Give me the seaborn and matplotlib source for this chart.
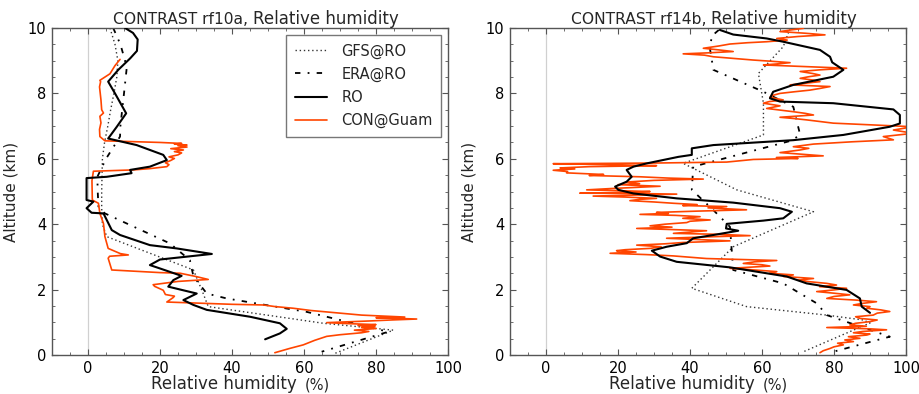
import numpy as np
import pandas as pd
import matplotlib
matplotlib.use("Agg")
import matplotlib.pyplot as plt
import seaborn as sns

# ---------------- data: relative humidity (%) vs altitude (km) ----------------
# rf10a
gfs_a_rh = [6.1, 7.5, 8.3, 8.0, 7.2, 6.3, 5.5, 4.6, 4.0, 3.9, 3.8, 3.8, 4.0, 5.2, 29.3, 32.0, 33.4, 65.4, 84.8, 68.6]
gfs_a_z = [10.0, 9.5, 9.0, 8.5, 8.0, 7.5, 7.0, 6.5, 6.0, 5.5, 5.0, 4.5, 4.0, 3.62, 2.6, 1.88, 1.48, 0.97, 0.76, 0.05]

era_a_rh = [7.0, 9.0, 10.3, 10.7, 10.0, 9.5, 9.0, 8.9, 5.0, 2.6, 2.7, 2.9, 4.7, 22.8, 28.3, 29.3, 33.0, 38.5, 60.7, 70.0, 83.4, 64.9]
era_a_z = [10.0, 9.5, 9.0, 8.72, 8.0, 7.5, 7.0, 6.68, 6.0, 5.45, 5.0, 4.54, 4.33, 3.41, 2.9, 2.4, 1.88, 1.73, 1.32, 1.07, 0.71, 0.1]

ro_a_rh = [10.3, 12.5, 13.8, 13.6, 11.7, 8.4, 5.6, 7.5, 10.6, 8.0, 5.6, 13.5, 20.9, 21.9, 17.2, 11.7, 12.1, 5.2,
           -0.4, -0.4, 1.5, -0.4, 1.0, 4.3, 6.6, 8.9, 17.2, 24.6, 34.4, 20.0, 17.2, 19.1, 26.0, 23.7, 22.3, 30.2,
           26.5, 29.3, 33.0, 45.0, 53.3, 55.2, 53.3, 49.2]
ro_a_z = [10.0, 9.85, 9.65, 9.3, 9.07, 8.72, 8.36, 8.0, 7.39, 6.98, 6.62, 6.42, 6.12, 5.96, 5.76, 5.66, 5.56, 5.45,
          5.41, 4.74, 4.69, 4.49, 4.35, 4.33, 3.82, 3.67, 3.36, 3.26, 3.09, 2.92, 2.75, 2.68, 2.42, 2.29, 2.09, 1.88,
          1.68, 1.53, 1.38, 1.17, 0.97, 0.80, 0.66, 0.48]

con_a_rh = [8.9, 7.5, 6.1, 3.3, 3.5, 3.2, 3.4, 3.6, 3.8, 4.3, 3.3, 3.6, 3.2, 3.3,
            4.7, 20.0, 26.0, 24.0, 27.5, 25.0, 27.5, 23.0, 26.5, 24.0, 26.0, 25.0, 22.5, 24.0, 23.0, 21.5, 22.5,
            21.9, 17.2, 12.6, 1.5,
            1.1, 1.2, 2.9, 3.3, 4.3, 4.7, 5.6, 9.0, 11.2, 6.0, 5.6, 6.6, 20.0, 25.6, 30.0, 33.4, 25.0, 18.1, 18.5,
            20.9, 21.5, 24.0, 23.7, 21.9,
            40.0, 48.7, 52.0, 57.0, 62.0, 67.0, 70.0, 76.0, 88.0, 80.0, 91.3, 84.0, 78.0, 66.3, 72.0, 80.0, 75.0,
            79.7, 76.0, 80.0, 74.0, 78.0, 76.0, 70.0, 66.3, 63.0, 59.8, 56.0, 51.9]
con_a_z = [9.04, 8.85, 8.6, 8.4, 8.36, 8.2, 8.0, 7.8, 7.5, 7.4, 7.3, 7.1, 6.9, 6.68,
           6.55, 6.50, 6.47, 6.45, 6.42, 6.40, 6.36, 6.31, 6.27, 6.22, 6.18, 6.12, 6.06, 6.01, 5.95, 5.88, 5.82,
           5.76, 5.70, 5.66, 5.62,
           5.33, 4.74, 4.64, 4.33, 4.02, 3.62, 3.26, 3.1, 3.06, 3.02, 2.96, 2.6, 2.52, 2.5, 2.4, 2.31, 2.25, 2.15, 2.1,
           1.98, 1.85, 1.8, 1.76, 1.62,
           1.55, 1.53, 1.48, 1.43, 1.36, 1.31, 1.28, 1.22, 1.16, 1.14, 1.10, 1.07, 1.04, 0.99, 0.96, 0.93, 0.90,
           0.87, 0.84, 0.81, 0.76, 0.72, 0.68, 0.62, 0.57, 0.45, 0.31, 0.2, 0.07]

# rf14b
gfs_b_rh = [67.8, 65.9, 59.0, 60.4, 60.4, 38.1, 53.0, 74.3, 52.0, 40.5, 55.7, 78.0, 88.1, 90.0, 71.5]
gfs_b_z = [9.99, 9.43, 8.61, 7.70, 6.73, 5.86, 5.05, 4.38, 3.31, 2.04, 1.48, 1.22, 1.07, 0.98, 0.1]

era_b_rh = [48.0, 46.0, 45.6, 46.5, 60.4, 68.7, 70.6, 68.0, 40.9, 40.5, 46.5, 51.1, 52.0, 65.9, 75.2, 78.0, 95.5, 79.8]
era_b_z = [9.94, 9.75, 9.33, 8.72, 8.05, 7.59, 6.73, 6.55, 5.76, 5.05, 4.43, 3.92, 2.60, 2.19, 1.58, 1.22, 0.56, 0.1]

ro_b_rh = [48.3, 52.0, 61.3, 65.9, 76.1, 78.9, 79.5, 82.6, 79.8, 68.7, 63.1, 62.2, 65.0, 79.8, 96.5, 98.3, 98.3,
           95.5, 82.6, 68.7, 46.5, 40.5, 40.5, 36.8, 28.0, 24.3, 22.4, 23.8, 22.4, 19.2, 20.1, 24.3, 36.3, 52.0,
           65.0, 68.3, 65.9, 60.4, 50.2, 50.0, 53.4, 46.5, 40.9, 39.1, 33.5, 29.4, 31.7, 36.3, 51.1, 66.9, 72.4,
           83.5, 87.2, 87.7, 90.0]
ro_b_z = [9.94, 9.8, 9.68, 9.58, 9.33, 9.12, 8.95, 8.72, 8.51, 8.26, 8.05, 7.85, 7.75, 7.7, 7.51, 7.34, 7.08,
          6.98, 6.73, 6.57, 6.42, 6.32, 6.12, 6.06, 5.86, 5.76, 5.66, 5.45, 5.30, 5.15, 5.05, 4.94, 4.79, 4.66,
          4.49, 4.38, 4.18, 4.11, 4.01, 3.87, 3.80, 3.67, 3.57, 3.42, 3.31, 3.19, 3.01, 2.85, 2.68, 2.40, 2.19,
          1.99, 1.73, 1.48, 1.29]

con_b_rh = [71.5, 68.0, 65.0, 72.0, 77.5, 70.0, 64.1, 67.0, 61.3, 56.0, 51.1, 48.0, 43.7, 48.0, 52.0, 45.0, 38.1,
            44.0, 46.5, 52.0, 57.6, 63.0, 67.8, 64.0, 60.4, 72.0, 83.5, 76.0, 70.6, 74.0, 76.1, 73.0, 70.6, 74.0,
            76.1, 72.0, 67.8, 78.9, 76.0, 73.3, 69.0, 65.0, 63.0, 62.2, 65.9, 62.0, 60.4, 65.0, 61.3, 65.0, 68.7,
            72.0, 74.3, 65.0, 69.0, 72.4, 76.0, 79.8,
            102.0, 96.5, 102.0, 93.7, 96.5, 85.0, 74.3, 68.7, 73.0, 70.6, 65.0, 71.0, 77.0,
            64.0, 70.0, 57.6, 50.2, 30.0, 2.0, 18.0, 30.7, 12.0, 3.9, 8.0, 2.0, 6.0, 5.7, 16.0, 12.0, 26.1, 34.0,
            43.7, 30.0, 22.4, 26.0, 20.0, 31.7, 24.0, 18.0, 11.3,
            28.9, 22.4, 9.4, 24.0, 36.3, 25.0, 13.1, 22.0, 30.7, 26.0, 23.3, 30.0, 35.4, 42.0, 38.0, 50.2, 45.0,
            55.7, 42.0, 30.7, 34.0, 26.1, 36.0, 42.8, 38.0, 45.6, 40.0, 39.1, 33.0, 28.9, 35.0, 25.2, 34.0, 44.6,
            40.0, 35.4, 48.0, 56.7, 44.0, 33.5, 42.0, 51.1, 38.0, 33.0, 25.2, 32.0, 28.9, 22.0, 19.6, 25.0, 17.8,
            28.0, 35.4, 40.0, 44.6,
            64.1, 58.0, 54.8, 60.0, 62.2, 56.0, 51.1, 58.0, 64.1, 62.0, 68.7, 66.0, 74.3, 70.0, 73.3, 78.0, 80.7,
            76.0, 83.5, 80.0, 75.2, 80.0, 84.4, 80.0, 78.0, 86.0, 91.8, 88.0, 85.4, 90.0, 89.1, 93.0, 95.5, 92.0,
            90.9, 86.0, 87.2, 92.0, 90.0, 86.0, 84.4, 89.0, 78.0, 90.0, 94.6, 88.0, 85.4, 90.0, 89.1, 84.0, 87.2,
            83.0, 85.4, 81.0, 82.6, 80.0, 78.9, 77.0, 76.1]
con_b_z = [9.99, 9.94, 9.89, 9.84, 9.79, 9.74, 9.68, 9.63, 9.58, 9.55, 9.51, 9.45, 9.38, 9.33, 9.28, 9.24, 9.21,
           9.17, 9.12, 9.07, 9.02, 8.98, 8.94, 8.90, 8.87, 8.82, 8.77, 8.72, 8.67, 8.61, 8.56, 8.51, 8.46, 8.41,
           8.36, 8.31, 8.26, 8.21, 8.15, 8.10, 8.05, 8.00, 7.94, 7.88, 7.80, 7.75, 7.70, 7.62, 7.54, 7.49, 7.44,
           7.39, 7.34, 7.27, 7.23, 7.19, 7.14, 7.09,
           6.98, 6.88, 6.78, 6.68, 6.58, 6.52, 6.45, 6.37, 6.32, 6.27, 6.19, 6.14, 6.09,
           6.04, 6.01, 5.98, 5.90, 5.87, 5.85, 5.82, 5.79, 5.76, 5.72, 5.69, 5.65, 5.61, 5.57, 5.52, 5.49, 5.45, 5.41,
           5.38, 5.34, 5.29, 5.24, 5.21, 5.16, 5.12, 5.09, 5.05,
           5.00, 4.97, 4.95, 4.94, 4.92, 4.89, 4.86, 4.83, 4.79, 4.76, 4.72, 4.68, 4.64, 4.60, 4.57, 4.54, 4.50,
           4.44, 4.40, 4.36, 4.33, 4.30, 4.27, 4.23, 4.18, 4.13, 4.09, 4.05, 4.00, 3.95, 3.91, 3.87, 3.84, 3.80,
           3.76, 3.72, 3.69, 3.65, 3.61, 3.57, 3.53, 3.49, 3.44, 3.40, 3.36, 3.31, 3.26, 3.22, 3.19, 3.15, 3.11,
           3.07, 3.03, 2.99, 2.95,
           2.89, 2.85, 2.80, 2.76, 2.72, 2.68, 2.65, 2.60, 2.55, 2.50, 2.45, 2.40, 2.34, 2.29, 2.24, 2.19, 2.14,
           2.09, 2.04, 1.99, 1.94, 1.89, 1.84, 1.79, 1.73, 1.68, 1.63, 1.58, 1.53, 1.48, 1.43, 1.38, 1.33, 1.28,
           1.22, 1.17, 1.12, 1.07, 1.02, 0.97, 0.92, 0.88, 0.84, 0.80, 0.77, 0.72, 0.68, 0.64, 0.61, 0.56, 0.51,
           0.46, 0.41, 0.36, 0.31, 0.25, 0.20, 0.13, 0.07]

panels = [
    ("CONTRAST rf10a,", (gfs_a_rh, gfs_a_z), (era_a_rh, era_a_z), (ro_a_rh, ro_a_z), (con_a_rh, con_a_z)),
    ("CONTRAST rf14b,", (gfs_b_rh, gfs_b_z), (era_b_rh, era_b_z), (ro_b_rh, ro_b_z), (con_b_rh, con_b_z)),
]

# ---------------- style ----------------
sns.set_style("ticks")
plt.rcParams.update({
    "font.family": ["DejaVu Sans"],
    "axes.edgecolor": "#555555",
    "axes.linewidth": 1.0,
    "xtick.direction": "in",
    "ytick.direction": "in",
    "xtick.top": True,
    "ytick.right": True,
    "xtick.major.size": 4,
    "ytick.major.size": 4,
    "xtick.minor.size": 2,
    "ytick.minor.size": 2,
    "xtick.color": "#555555",
    "ytick.color": "#555555",
    "xtick.labelcolor": "black",
    "ytick.labelcolor": "black",
    "xtick.labelsize": 10.5,
    "ytick.labelsize": 10.5,
})

fig = plt.figure(figsize=(9.2, 3.94), dpi=100)
ax_l = fig.add_axes([52 / 920, 1 - 355 / 394, 396 / 920, 327 / 394])
ax_r = fig.add_axes([510 / 920, 1 - 355 / 394, 396 / 920, 327 / 394])

styles = {
    "GFS@RO": dict(color="#333333", lw=1.0, linestyle=(0, (1, 2))),
    "ERA@RO": dict(color="black", lw=1.3, linestyle=(0, (3, 4, 1, 4))),
    "RO": dict(color="black", lw=1.5, linestyle="-"),
    "CON@Guam": dict(color="#ff4500", lw=1.2, linestyle="-"),
}

for ax, (title, gfs, era, ro, con) in zip([ax_l, ax_r], panels):
    ax.axvline(0, color="#d0d0d0", lw=0.9, zorder=0)
    series = [("GFS@RO", gfs, 2), ("ERA@RO", era, 2), ("CON@Guam", con, 3), ("RO", ro, 4)]
    for name, (rh, z), zo in series:
        df = pd.DataFrame({"rh": rh, "alt": z})
        sns.lineplot(data=df, x="rh", y="alt", sort=False, estimator=None, ax=ax,
                     label=name, zorder=zo, **styles[name])
    ax.set_xlim(-10, 100)
    ax.set_ylim(0, 10)
    ax.set_xticks([0, 20, 40, 60, 80, 100])
    ax.set_xticks(np.arange(-10, 101, 5), minor=True)
    ax.set_yticks([0, 2, 4, 6, 8, 10])
    ax.set_yticks(np.arange(0, 10.01, 0.5), minor=True)
    ax.tick_params(axis="both", which="both", direction="in", top=True, right=True, pad=4)
    ax.set_xlabel("")
    ax.set_ylabel("Altitude (km)", fontsize=11)
    ax.yaxis.set_label_coords(-0.085, 0.5)
    ax.legend().remove()

    # two-size title
    ax.text(0.496, 1.012, title, transform=ax.transAxes, ha="right", va="baseline", fontsize=11.2)
    ax.text(0.507, 1.012, "Relative humidity", transform=ax.transAxes, ha="left", va="baseline", fontsize=12)
    # two-size x label
    ax.text(0.619, -0.104, "Relative humidity", transform=ax.transAxes, ha="right", va="baseline", fontsize=12)
    ax.text(0.637, -0.104, "(%)", transform=ax.transAxes, ha="left", va="baseline", fontsize=10.5)

# legend on the left panel in GFS, ERA, RO, CON order
handles, labels = ax_l.get_legend_handles_labels()
order = [labels.index(n) for n in ["GFS@RO", "ERA@RO", "RO", "CON@Guam"]]
leg = ax_l.legend([handles[i] for i in order], [labels[i] for i in order], loc="upper right",
                  fontsize=10.5, frameon=True, fancybox=False, edgecolor="#555555",
                  borderaxespad=0.45, handlelength=2.2, handletextpad=1.0, labelspacing=0.55,
                  borderpad=0.6)
leg.get_frame().set_linewidth(1.0)

fig.savefig("out.png", dpi=100)
